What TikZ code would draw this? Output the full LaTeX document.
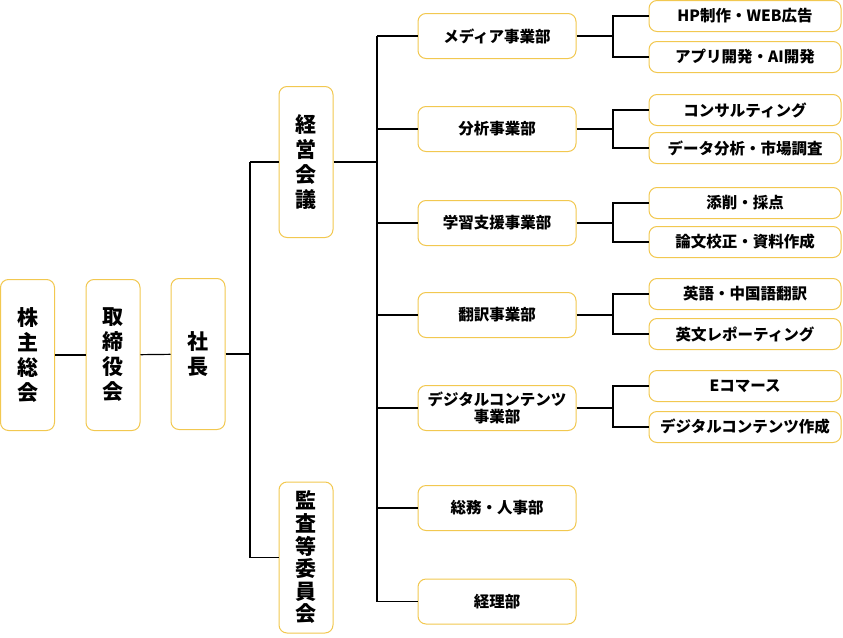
\documentclass[tikz,border=0pt]{standalone}
\usepackage{fontspec}
\setmainfont{Noto Sans CJK JP}
\usetikzlibrary{calc}
\definecolor{boxgold}{RGB}{242,200,80}

\begin{document}
\begin{tikzpicture}[x=1pt,y=-1pt,
    orgbox/.style={draw=boxgold,line width=1pt,rounded corners=8pt,fill=white,
        inner sep=0pt,align=center,font=\bfseries},
    tallbox/.style={orgbox,minimum width=54pt,minimum height=151pt,
        font=\fontsize{21}{25}\selectfont\bfseries},
    deptbox/.style={orgbox,minimum width=158pt,minimum height=45pt,
        font=\fontsize{15.5}{17}\selectfont\bfseries},
    subbox/.style={orgbox,minimum width=192pt,minimum height=31pt,
        font=\fontsize{15.5}{17}\selectfont\bfseries},
    link/.style={draw=black,line width=1.2pt}]
    \useasboundingbox (0,0) rectangle (843,637);
    % left chain
    \node[tallbox] (kabunushi) at (27.5,355) {株\\主\\総\\会};
    \node[tallbox] (torishimari) at (113,355) {取\\締\\役\\会};
    \node[tallbox] (shacho) at (198,354) {社\\長};
    \node[tallbox] (keiei) at (306,162) {経\\営\\会\\議};
    \node[tallbox,font=\fontsize{21}{22.6}\selectfont\bfseries] (kansa) at (306,557.5) {監\\査\\等\\委\\員\\会};
    % departments
    \node[deptbox] (media) at (497,36) {メディア事業部};
    \node[deptbox] (bunseki) at (497,129) {分析事業部};
    \node[deptbox] (gakushu) at (497,223) {学習支援事業部};
    \node[deptbox] (honyaku) at (497,315) {翻訳事業部};
    \node[deptbox] (digital) at (497,408) {デジタルコンテンツ\\事業部};
    \node[deptbox] (somu) at (497,508) {総務・人事部};
    \node[deptbox] (keiri) at (497,601.5) {経理部};
    % sections
    \node[subbox] (hp) at (745,16) {HP制作・WEB広告};
    \node[subbox] (app) at (745,57) {アプリ開発・AI開発};
    \node[subbox] (consul) at (745,110) {コンサルティング};
    \node[subbox] (data) at (745,148) {データ分析・市場調査};
    \node[subbox] (tensaku) at (745,203) {添削・採点};
    \node[subbox] (ronbun) at (745,242) {論文校正・資料作成};
    \node[subbox] (eigo) at (745,294) {英語・中国語翻訳};
    \node[subbox] (eibun) at (745,334) {英文レポーティング};
    \node[subbox] (ecom) at (745,386) {Eコマース};
    \node[subbox] (dcont) at (745,427) {デジタルコンテンツ作成};

    \coordinate (spine) at (250,0);
    \coordinate (trunk) at (377,0);
    \coordinate (branch) at (613,0);

    \draw[link] (kabunushi) -- (torishimari);
    \draw[link] (torishimari) -- (shacho);
    \draw[link] (shacho.east) -- (spine |- shacho.east);
    \draw[link] (spine |- keiei.west) -- (keiei.west);
    \draw[link] (spine |- kansa.west) -- (kansa.west);
    \draw[link] (spine |- keiei.west) -- (spine |- kansa.west);
    \draw[link] (keiei.east) -- (trunk |- keiei.east);
    \draw[link] (trunk |- media.west) -- (trunk |- keiri.west);
    \foreach \d in {media,bunseki,gakushu,honyaku,digital,somu,keiri}
      \draw[link] (trunk |- \d.west) -- (\d.west);
    \foreach \d/\a/\b in {media/hp/app,bunseki/consul/data,gakushu/tensaku/ronbun,
        honyaku/eigo/eibun,digital/ecom/dcont}{
      \draw[link] (\d.east) -- (branch |- \d.east);
      \draw[link] (\a.west) -| (branch |- \d.east) |- (\b.west);
    }
\end{tikzpicture}
\end{document}
